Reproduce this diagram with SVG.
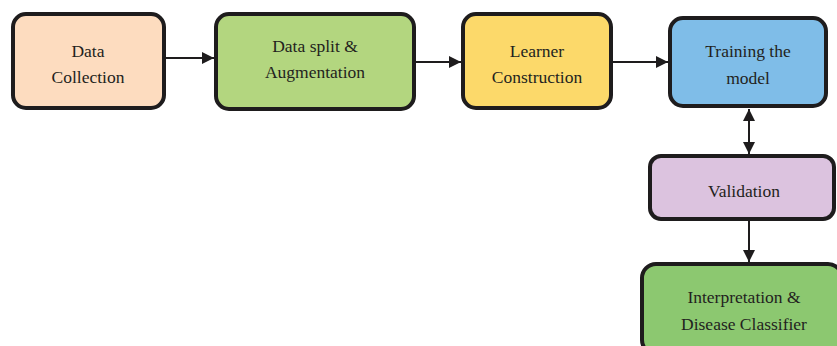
<svg xmlns="http://www.w3.org/2000/svg" width="837" height="346" viewBox="0 0 837 346">
<defs>
<style>
.box{stroke:#1e1c1d;stroke-width:4}
.t{font-family:"Liberation Serif","Times New Roman",serif;font-size:17.5px;fill:#231f20;text-anchor:middle}
.c{stroke:#1e1c1d;stroke-width:2;fill:none}
</style>
<marker id="ah" viewBox="0 0 12 12" refX="12" refY="6" markerWidth="12" markerHeight="12" markerUnits="userSpaceOnUse" orient="auto-start-reverse">
<path d="M0,0 L12,6 L0,12 z" fill="#1e1c1d"/>
</marker>
</defs>
<rect width="837" height="346" fill="#ffffff"/>
<g id="connectors">
<line class="c" x1="165" y1="58" x2="214" y2="58" marker-end="url(#ah)"/>
<line class="c" x1="415" y1="62" x2="461" y2="62" marker-end="url(#ah)"/>
<line class="c" x1="612" y1="62" x2="668" y2="62" marker-end="url(#ah)"/>
<line class="c" x1="749" y1="109" x2="749" y2="154" marker-start="url(#ah)" marker-end="url(#ah)"/>
<line class="c" x1="749" y1="221" x2="749" y2="262" marker-end="url(#ah)"/>
</g>
<g id="n1">
<rect class="box" x="13" y="14" width="151" height="94" rx="13" fill="#fddcbf"/>
<text class="t" x="88" y="57">Data</text>
<text class="t" x="88" y="83">Collection</text>
</g>
<g id="n2">
<rect class="box" x="216" y="14" width="198" height="95" rx="13" fill="#b3d67f"/>
<text class="t" x="315" y="52">Data split &amp;</text>
<text class="t" x="315" y="78">Augmentation</text>
</g>
<g id="n3">
<rect class="box" x="463" y="14" width="148" height="94" rx="13" fill="#fcd96a"/>
<text class="t" x="537" y="57">Learner</text>
<text class="t" x="537" y="83">Construction</text>
</g>
<g id="n4">
<rect class="box" x="670" y="18" width="156" height="88" rx="13" fill="#7fbde8"/>
<text class="t" x="748" y="57">Training the</text>
<text class="t" x="748" y="84">model</text>
</g>
<g id="n5">
<rect class="box" x="650" y="156" width="184" height="63" rx="11" fill="#dcc3df"/>
<text class="t" x="744" y="197">Validation</text>
</g>
<g id="n6">
<rect class="box" x="642" y="264" width="200" height="90" rx="14" fill="#8cc870"/>
<text class="t" x="744" y="303">Interpretation &amp;</text>
<text class="t" x="744" y="330">Disease Classifier</text>
</g>
</svg>
